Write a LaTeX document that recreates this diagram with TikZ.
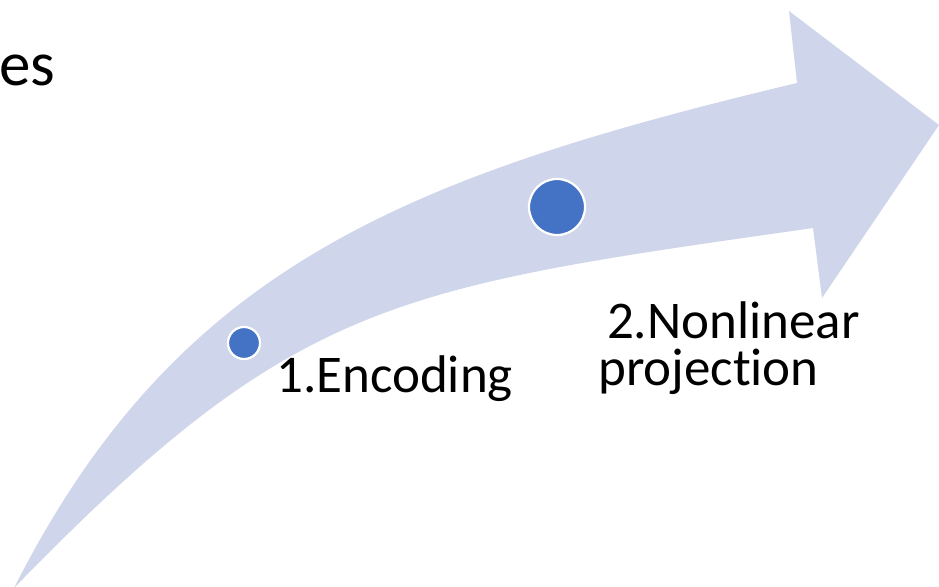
\documentclass[tikz,border=0pt]{standalone}
\usepackage{fontspec}
\setmainfont[Ligatures={NoCommon}]{Carlito}
\definecolor{bandfill}{HTML}{CFD5EA}
\definecolor{dotblue}{HTML}{4472C4}
\begin{document}
\begin{tikzpicture}[x=1pt,y=-1pt,
  dot/.style={circle, fill=dotblue, draw=white, line width=2.2pt, inner sep=0pt},
  label/.style={inner sep=0pt, font=\fontsize{53}{47}\selectfont, text=black}]
\useasboundingbox (0,0) rectangle (939,586);
% curved band ending in a broad arrowhead
\fill[bandfill] (14,588)
  .. controls (176,268) and (403,177) .. (797,83)
  -- (789,11) -- (939,125) -- (822,298) -- (813,228)
  .. controls (393,288) and (296,298) .. (14,588) -- cycle;
% stage markers
\node[dot, minimum size=32pt] (enc) at (244,343) {};
\node[dot, minimum size=56pt] (proj) at (557,207) {};
% captions
\node[label, font=\fontsize{63}{70}\selectfont, anchor=base west] (head) at (-1,85) {es};
\node[label, anchor=base west] (enctext) at (276,392) {1.Encoding};
\node[label, align=left, anchor=base west] (nltext) at (598,385) {\,2.Nonlinear\\projection};
\end{tikzpicture}
\end{document}
